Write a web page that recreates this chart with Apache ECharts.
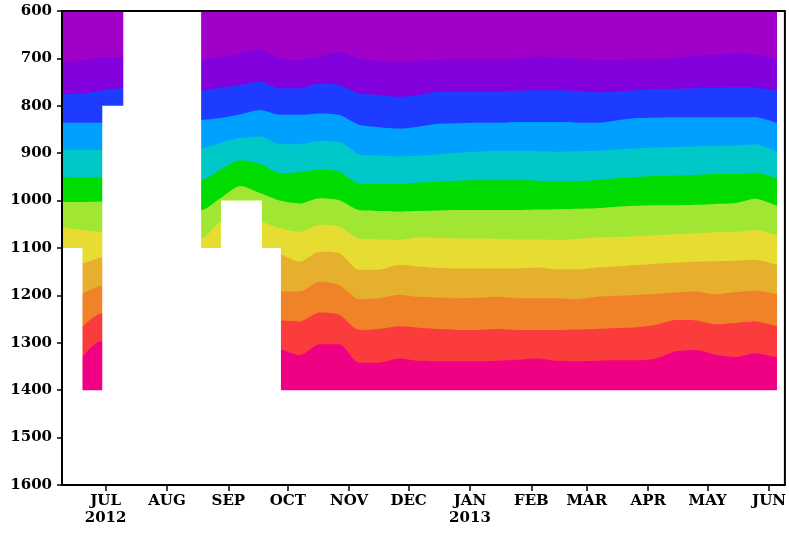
<!DOCTYPE html>
<html><head><meta charset="utf-8">
<script src="https://cdn.jsdelivr.net/npm/echarts@6/dist/echarts.min.js"></script>
<style>html,body{margin:0;padding:0;background:#fff}#c{width:789px;height:533px}</style>
</head><body><div id="c"></div>
<script>
// time steps (~10-day)
const dates = ['2012-06-09','2012-06-19','2012-06-29','2012-07-09','2012-08-18','2012-08-28','2012-09-07','2012-09-17','2012-09-27','2012-10-07','2012-10-17','2012-10-27','2012-11-06','2012-11-16','2012-11-26','2012-12-06','2012-12-16','2012-12-26','2013-01-05','2013-01-15','2013-01-25','2013-02-04','2013-02-14','2013-02-24','2013-03-06','2013-03-16','2013-03-26','2013-04-05','2013-04-15','2013-04-25','2013-05-05','2013-05-15','2013-05-25','2013-06-05'];
// depth of each contour boundary (top to bottom)
const b1  = [707,704,698,698,703,697,689,682,700,703,696,686,700,705,707,705,703,702,702,702,701,696,699,701,703,703,702,701,699,695,692,690,692,702];
const b2  = [776,774,768,763,768,762,756,749,763,763,753,756,774,777,781,777,770,770,770,770,768,767,767,769,772,770,767,765,764,763,762,761,762,768];
const b3  = [836,836,836,null,830,826,818,809,819,819,816,819,840,845,848,844,838,837,836,836,834,834,834,835,836,831,826,825,824,824,824,824,824,836];
const b4  = [893,893,893,null,890,878,868,865,881,881,874,876,902,905,907,905,902,899,897,895,895,896,897,896,895,892,890,888,887,886,885,884,881,897];
const b5  = [950,951,950,null,957,935,915,923,942,940,935,939,964,965,965,962,960,958,957,957,957,958,960,959,957,953,950,948,947,946,944,944,941,953];
const b6  = [1003,1003,1002,null,1020,995,969,984,1000,1006,995,999,1020,1022,1023,1022,1021,1020,1020,1020,1020,1019,1018,1017,1016,1013,1011,1010,1010,1009,1007,1005,996,1011];
const b7  = [1057,1062,1066,null,1080,1045,1040,1044,1058,1066,1051,1055,1080,1082,1083,1078,1079,1080,1080,1081,1082,1082,1083,1081,1078,1077,1075,1073,1071,1069,1067,1066,1062,1073];
const b8  = [1132,1132,1120,null,null,null,null,null,1114,1129,1108,1111,1146,1146,1136,1139,1142,1143,1143,1143,1143,1141,1145,1145,1141,1139,1136,1133,1131,1129,1128,1127,1125,1136];
const b9  = [null,1197,1180,null,null,null,null,null,1192,1192,1171,1178,1208,1206,1199,1203,1205,1206,1205,1203,1206,1206,1206,1208,1203,1201,1199,1197,1194,1192,1198,1193,1190,1197];
const b10 = [null,1267,1238,null,null,null,null,null,1253,1255,1236,1241,1273,1271,1265,1268,1271,1273,1273,1271,1273,1273,1273,1272,1271,1269,1267,1262,1252,1253,1261,1258,1255,1265];
const b11 = [null,1331,1296,null,null,null,null,null,1314,1326,1303,1303,1342,1342,1333,1338,1339,1339,1339,1338,1336,1333,1338,1339,1338,1337,1337,1333,1318,1315,1325,1330,1322,1331];
const maxDepth = 1400;
// missing-data blocks: [start, end, top depth]
const maskStart = ['2012-06-09','2012-06-29 14:00','2012-07-10 05:00','2012-08-18 00:00','2012-08-28 12:00','2012-09-17 17:00'];
const maskEnd   = ['2012-06-19 02:00','2012-07-10 05:00','2012-08-18 00:00','2012-08-28 12:00','2012-09-17 17:00','2012-09-27 07:00'];
const maskTop   = [1100,800,600,1100,1000,1100];
const monthTicks  = ['2012-07-01','2012-08-01','2012-09-01','2012-10-01','2012-11-01','2012-12-01','2013-01-01','2013-02-01','2013-03-01','2013-04-01','2013-05-01','2013-06-01'];
const monthLabels = ['JUL\n2012','AUG','SEP','OCT','NOV','DEC','JAN\n2013','FEB','MAR','APR','MAY','JUN'];
const bandColors = ['#a000c8','#8200dc','#1e3cff','#00a0ff','#00c8c8','#00dc00','#a0e632','#e6dc32','#e6af2d','#f08228','#fa3c3c','#f00082'];

function ts(s){const m=s.match(/(\d+)-(\d+)-(\d+)(?:\s+(\d+):(\d+))?/);return Date.UTC(+m[1],+m[2]-1,+m[3],+(m[4]||0),+(m[5]||0));}
const tTimes = dates.map(ts);
const tickTimes = monthTicks.map(ts);
const labelMap = {}; tickTimes.forEach((t,i)=>labelMap[t]=monthLabels[i]);

const boundaries = [b1,b2,b3,b4,b5,b6,b7,b8,b9,b10,b11];
function areaSeries(vals,color){
  return {type:'line',data:tTimes.map((t,i)=>[t,vals[i]]),connectNulls:true,showSymbol:false,symbol:'none',
    smooth:0.25,lineStyle:{width:0},areaStyle:{color:color,opacity:1,origin:'start'},silent:true,animation:false};
}
const series = [areaSeries(dates.map(()=>maxDepth),bandColors[11])];
for(let k=10;k>=0;k--) series.push(areaSeries(boundaries[k],bandColors[k]));
series.push({type:'custom',animation:false,silent:true,z:5,clip:true,
  data:maskStart.map((s,i)=>[ts(s),ts(maskEnd[i]),maskTop[i]]),
  encode:{x:[0,1],y:2},
  renderItem:function(params,api){
    const p0=api.coord([api.value(0),api.value(2)]);
    const p1=api.coord([api.value(1),maxDepth]);
    return {type:'rect',shape:{x:p0[0]-0.5,y:p0[1],width:p1[0]-p0[0]+1,height:p1[1]-p0[1]+1},style:{fill:'#fff'}};
  }});

const font = {fontFamily:'DejaVu Serif',fontWeight:'bold',color:'#000'};
const chart = echarts.init(document.getElementById('c'),null,{renderer:'canvas'});
chart.setOption({
  animation:false,backgroundColor:'#fff',
  grid:{left:62,right:3,top:11,bottom:48,show:true,borderColor:'#000',borderWidth:2,backgroundColor:'transparent',z:10},
  xAxis:{type:'value',min:ts('2012-06-09'),max:ts('2013-06-09'),scale:true,
    axisLine:{show:true,lineStyle:{color:'#000',width:2}},
    axisTick:{show:true,customValues:tickTimes,inside:false,length:6,lineStyle:{color:'#000',width:1.5}},
    axisLabel:Object.assign({customValues:tickTimes,formatter:v=>labelMap[v]||'',fontSize:15,lineHeight:17,margin:8},font),
    splitLine:{show:false},z:10},
  yAxis:{type:'value',inverse:true,min:600,max:1600,interval:100,
    axisLine:{show:true,lineStyle:{color:'#000',width:2}},
    axisTick:{show:true,inside:false,length:5,lineStyle:{color:'#000',width:1.5}},
    axisLabel:Object.assign({fontSize:15,margin:10,formatter:v=>String(v)},font),
    splitLine:{show:false},z:10},
  series:series
});
</script></body></html>
